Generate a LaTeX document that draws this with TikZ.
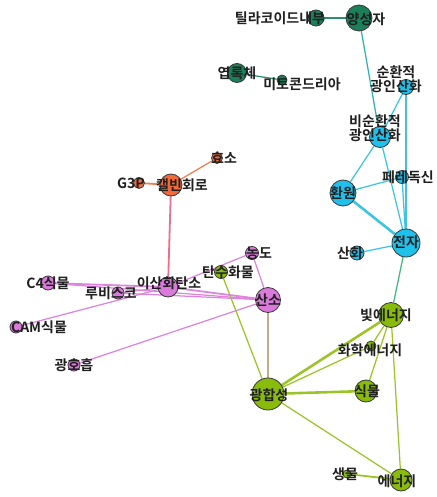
\documentclass[tikz,border=0pt]{standalone}
\usepackage{fontspec}
\usetikzlibrary{backgrounds}
\newfontfamily\kr{Noto Sans CJK KR Bold}
\definecolor{cG}{HTML}{1B7F5A}
\definecolor{cC}{HTML}{1FC0EA}
\definecolor{cO}{HTML}{F26A3C}
\definecolor{cV}{HTML}{DA7ADA}
\definecolor{cL}{HTML}{88BB0A}
\definecolor{eG}{HTML}{2A9070}
\definecolor{eT}{HTML}{30B0B0}
\definecolor{eC}{HTML}{3CC4E4}
\definecolor{eTL}{HTML}{40B880}
\definecolor{eO}{HTML}{F07D50}
\definecolor{eOV}{HTML}{E8708A}
\definecolor{eV}{HTML}{DE84DE}
\definecolor{eL}{HTML}{9CC428}
\definecolor{eVL}{HTML}{C8AA88}
\tikzset{
  nd/.style={circle, draw=black!78, line width=0.8pt, inner sep=0pt, minimum size=#1},
  lbl/.style={font=\kr\fontsize{14}{14.5}\selectfont, inner sep=0pt, text=black!88, align=center},
  ed/.style={line width=1.25pt},
  edm/.style={line width=1.8pt},
  edt/.style={line width=2.6pt},
}
\begin{document}
\begin{tikzpicture}[x=1pt,y=-1pt]
\useasboundingbox (0,0) rectangle (436,497);
% nodes (circles)
\node[nd=26pt, fill=cG] (pro) at (359,18) {};
\node[nd=16pt, fill=cG] (thy) at (316,18) {};
\node[nd=19pt, fill=cG] (chl) at (237,73) {};
\node[nd=10pt, fill=cG] (mit) at (282,80) {};
\node[nd=15pt, fill=cC] (cyc) at (406,87) {};
\node[nd=21pt, fill=cC] (ncy) at (380,137) {};
\node[nd=13pt, fill=cC] (fer) at (402,177) {};
\node[nd=26pt, fill=cC] (hw) at (343,193) {};
\node[nd=28pt, fill=cC] (ele) at (406,243) {};
\node[nd=14pt, fill=cC] (oxi) at (357,253) {};
\node[nd=22pt, fill=cO] (cal) at (171,185) {};
\node[nd=11pt, fill=cO] (enz) at (217,158) {};
\node[nd=11pt, fill=cO] (g3p) at (139,183) {};
\node[nd=20pt, fill=cV] (co2) at (168,287) {};
\node[nd=12pt, fill=cV] (rub) at (118,293) {};
\node[nd=14pt, fill=cV] (c4) at (48,283) {};
\node[nd=12pt, fill=cV] (cam) at (16,327) {};
\node[nd=12pt, fill=cV] (phr) at (74,365) {};
\node[nd=13pt, fill=cV] (con) at (252,253) {};
\node[nd=25pt, fill=cV] (oxy) at (268,300) {};
\node[nd=13pt, fill=cL] (car) at (221,272) {};
\node[nd=32pt, fill=cL] (pho) at (268,394) {};
\node[nd=25pt, fill=cL] (lig) at (391,315) {};
\node[nd=10pt, fill=cL] (che) at (371,346) {};
\node[nd=22pt, fill=cL] (pla) at (366,391) {};
\node[nd=22pt, fill=cL] (ene) at (401,480) {};
\node[nd=8pt, fill=cL] (bio) at (347,474) {};
% edges
\begin{scope}[on background layer]
\draw[edm, eG] (thy) -- (pro);
\draw[ed, eG] (chl) -- (mit);
\draw[ed, eT] (pro) -- (ncy);
\draw[ed, eC] (cyc) -- (ncy);
\draw[ed, eC] (cyc) -- (ele);
\draw[ed, eC] (ncy) -- (hw);
\draw[ed, eC] (ncy) -- (ele);
\draw[ed, eC] (fer) -- (hw);
\draw[ed, eC] (fer) -- (ele);
\draw[edt, eC] (hw) -- (ele);
\draw[ed, eC] (oxi) -- (ele);
\draw[ed, eTL] (ele) -- (lig);
\draw[ed, eO] (cal) -- (enz);
\draw[edm, eO] (cal) -- (g3p);
\draw[edm, eOV] (cal) -- (co2);
\draw[edm, eV] (c4) -- (co2);
\draw[ed, eV] (c4) -- (oxy);
\draw[ed, eV] (rub) -- (co2);
\draw[ed, eV] (rub) -- (oxy);
\draw[ed, eV] (cam) -- (co2);
\draw[edm, eV] (co2) -- (oxy);
\draw[ed, eV] (co2) -- (con);
\draw[ed, eV] (con) -- (oxy);
\draw[ed, eV] (phr) -- (oxy);
\draw[ed, eL] (car) -- (pho);
\draw[edt, eL] (pho) -- (lig);
\draw[ed, eL] (pho) -- (che);
\draw[ed, eL] (lig) -- (che);
\draw[ed, eL] (lig) -- (pla);
\draw[ed, eL] (lig) -- (ene);
\draw[edt, eL] (pho) -- (pla);
\draw[ed, eL] (pho) -- (ene);
\draw[edm, eL] (ene) -- (bio);
\draw[edm, eVL] (oxy) -- (pho);
\end{scope}
% labels
\node[lbl] (tpro) at (366,19) {양성자};
\node[lbl] (tthy) at (280,18) {틸라코이드내부};
\node[lbl] (tchl) at (237,73) {엽록체};
\node[lbl] (tmit) at (302,84) {미토콘드리아};
\node[lbl] (tcyc) at (396,79) {순환적\\광인산화};
\node[lbl] (tncy) at (375,128) {비순환적\\광인산화};
\node[lbl] (tfer) at (408,177) {페레독신};
\node[lbl] (thw) at (343,193) {환원};
\node[lbl] (tele) at (406,242) {전자};
\node[lbl] (toxi) at (350,253) {산화};
\node[lbl] (tcal) at (182,185) {캘빈회로};
\node[lbl] (tenz) at (224,158) {효소};
\node[lbl] (tg3p) at (131,183) {G3P};
\node[lbl] (tco2) at (169,283) {이산화탄소};
\node[lbl] (trub) at (111,293) {루비스코};
\node[lbl] (tc4) at (48,283) {C4식물};
\node[lbl] (tcam) at (39,327) {CAM식물};
\node[lbl] (tphr) at (74,365) {광호흡};
\node[lbl] (tcon) at (259,253) {농도};
\node[lbl] (toxy) at (268,300) {산소};
\node[lbl] (tcar) at (228,272) {탄수화물};
\node[lbl] (tpho) at (269,395) {광합성};
\node[lbl] (tlig) at (386,315) {빛에너지};
\node[lbl] (tche) at (370,350) {화학에너지};
\node[lbl] (tpla) at (367,391) {식물};
\node[lbl] (tene) at (397,481) {에너지};
\node[lbl] (tbio) at (345,474) {생물};
\end{tikzpicture}
\end{document}
